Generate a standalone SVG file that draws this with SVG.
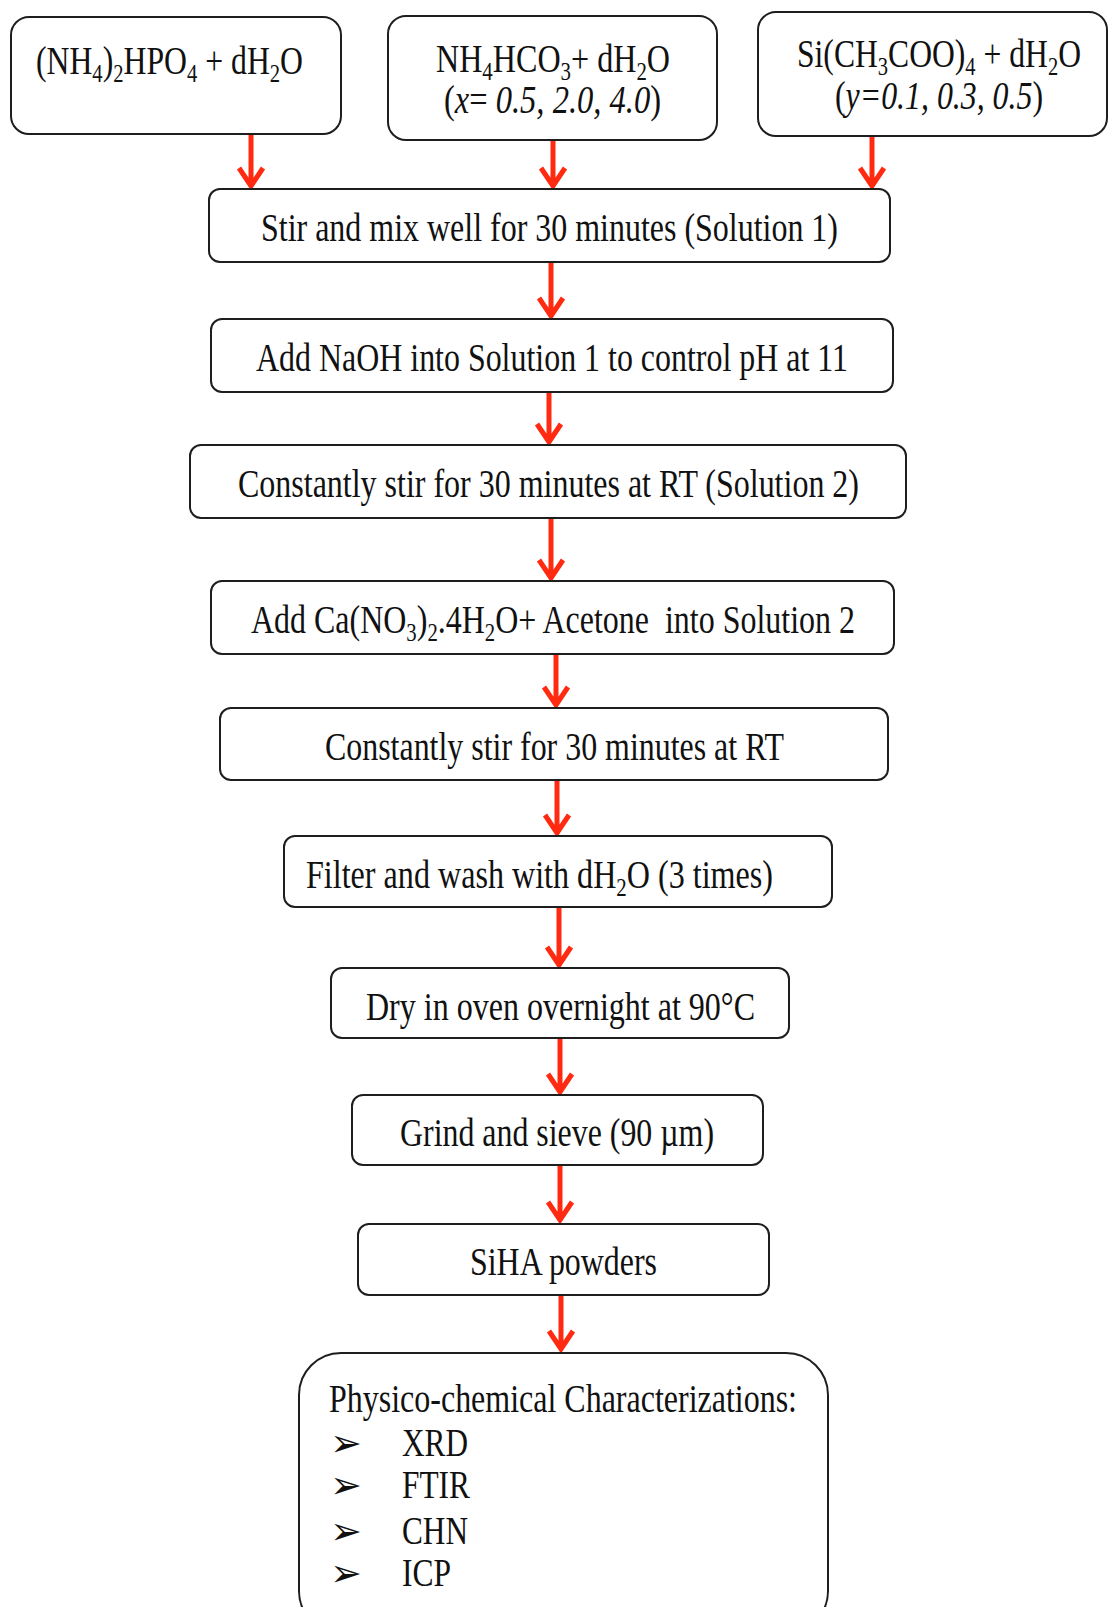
<svg xmlns="http://www.w3.org/2000/svg" width="1108" height="1607" viewBox="0 0 1108 1607">
<defs>
<style>
.box{fill:#ffffff;stroke:#1e1e1e;stroke-width:2}
.t{font-family:"Liberation Serif","Times New Roman",serif;font-size:40px;fill:#111}
.s{font-size:26px}
.i{font-style:italic}
.arr{stroke:#ff2a10;stroke-width:5;fill:none;stroke-linecap:butt;stroke-linejoin:miter}
.bul{font-family:"DejaVu Sans",sans-serif;font-size:38px;fill:#111}
</style>
</defs>
<rect width="1108" height="1607" fill="#ffffff"/>

<g id="connectors">
<path class="arr" d="M251 134V186M239 168L251 186L263 168"/>
<path class="arr" d="M553 140V186M541 168L553 186L565 168"/>
<path class="arr" d="M872 136V186M860 168L872 186L884 168"/>
<path class="arr" d="M551 262V316M539 298L551 316L563 298"/>
<path class="arr" d="M549 392V442M537 424L549 442L561 424"/>
<path class="arr" d="M551 518V578M539 560L551 578L563 560"/>
<path class="arr" d="M556 654V705M544 687L556 705L568 687"/>
<path class="arr" d="M557 780V833M545 815L557 833L569 815"/>
<path class="arr" d="M559 907V965M547 947L559 965L571 947"/>
<path class="arr" d="M560 1038V1092M548 1074L560 1092L572 1074"/>
<path class="arr" d="M560 1165V1220M548 1202L560 1220L572 1202"/>
<path class="arr" d="M561 1295V1349M549 1331L561 1349L573 1331"/>
</g>

<g id="n_dahp">
<rect class="box" x="11" y="17" width="330" height="117" rx="18"/>
<text class="t" x="36" y="74" textLength="267" lengthAdjust="spacingAndGlyphs">(NH<tspan class="s" dy="8">4</tspan><tspan dy="-8">)</tspan><tspan class="s" dy="8">2</tspan><tspan dy="-8">HPO</tspan><tspan class="s" dy="8">4</tspan><tspan dy="-8"> + dH</tspan><tspan class="s" dy="8">2</tspan><tspan dy="-8">O</tspan></text>
</g>

<g id="n_nh4hco3">
<rect class="box" x="388" y="16" width="329" height="124" rx="18"/>
<text class="t" x="436" y="72" textLength="234" lengthAdjust="spacingAndGlyphs">NH<tspan class="s" dy="8">4</tspan><tspan dy="-8">HCO</tspan><tspan class="s" dy="8">3</tspan><tspan dy="-8">+ dH</tspan><tspan class="s" dy="8">2</tspan><tspan dy="-8">O</tspan></text>
<text class="t" x="444" y="113" textLength="217" lengthAdjust="spacingAndGlyphs">(<tspan class="i">x</tspan>= <tspan class="i">0.5, 2.0, 4.0</tspan>)</text>
</g>

<g id="n_si">
<rect class="box" x="758" y="12" width="349" height="124" rx="18"/>
<text class="t" x="797" y="67" textLength="284" lengthAdjust="spacingAndGlyphs">Si(CH<tspan class="s" dy="8">3</tspan><tspan dy="-8">COO)</tspan><tspan class="s" dy="8">4</tspan><tspan dy="-8"> + dH</tspan><tspan class="s" dy="8">2</tspan><tspan dy="-8">O</tspan></text>
<text class="t" x="835" y="109" textLength="208" lengthAdjust="spacingAndGlyphs">(<tspan class="i">y=0.1, 0.3, 0.5</tspan>)</text>
</g>

<g id="n_stir1">
<rect class="box" x="209" y="189" width="681" height="73" rx="11"/>
<text class="t" x="261" y="241" textLength="577" lengthAdjust="spacingAndGlyphs">Stir and mix well for 30 minutes (Solution 1)</text>
</g>

<g id="n_naoh">
<rect class="box" x="211" y="319" width="682" height="73" rx="11"/>
<text class="t" x="256" y="371" textLength="592" lengthAdjust="spacingAndGlyphs">Add NaOH into Solution 1 to control pH at 11</text>
</g>

<g id="n_stir2">
<rect class="box" x="190" y="445" width="716" height="73" rx="11"/>
<text class="t" x="238" y="497" textLength="621" lengthAdjust="spacingAndGlyphs">Constantly stir for 30 minutes at RT (Solution 2)</text>
</g>

<g id="n_ca">
<rect class="box" x="211" y="581" width="683" height="73" rx="11"/>
<text class="t" x="251" y="633" textLength="604" lengthAdjust="spacingAndGlyphs" xml:space="preserve">Add Ca(NO<tspan class="s" dy="8">3</tspan><tspan dy="-8">)</tspan><tspan class="s" dy="8">2</tspan><tspan dy="-8">.4H</tspan><tspan class="s" dy="8">2</tspan><tspan dy="-8">O+ Acetone  into Solution 2</tspan></text>
</g>

<g id="n_stir3">
<rect class="box" x="220" y="708" width="668" height="72" rx="11"/>
<text class="t" x="325" y="760" textLength="459" lengthAdjust="spacingAndGlyphs">Constantly stir for 30 minutes at RT</text>
</g>

<g id="n_filter">
<rect class="box" x="284" y="836" width="548" height="71" rx="11"/>
<text class="t" x="306" y="888" textLength="467" lengthAdjust="spacingAndGlyphs">Filter and wash with dH<tspan class="s" dy="8">2</tspan><tspan dy="-8">O (3 times)</tspan></text>
</g>

<g id="n_dry">
<rect class="box" x="331" y="968" width="458" height="70" rx="11"/>
<text class="t" x="366" y="1020" textLength="389" lengthAdjust="spacingAndGlyphs">Dry in oven overnight at 90°C</text>
</g>

<g id="n_grind">
<rect class="box" x="352" y="1095" width="411" height="70" rx="11"/>
<text class="t" x="400" y="1146" textLength="314" lengthAdjust="spacingAndGlyphs">Grind and sieve (90 µm)</text>
</g>

<g id="n_siha">
<rect class="box" x="358" y="1224" width="411" height="71" rx="11"/>
<text class="t" x="470" y="1275" textLength="187" lengthAdjust="spacingAndGlyphs">SiHA powders</text>
</g>

<g id="n_char">
<rect class="box" x="299" y="1353" width="529" height="280" rx="42"/>
<text class="t" x="329" y="1412" textLength="468" lengthAdjust="spacingAndGlyphs">Physico-chemical Characterizations:</text>
<text class="bul" x="330" y="1456">➢</text>
<text class="bul" x="330" y="1498">➢</text>
<text class="bul" x="330" y="1544">➢</text>
<text class="bul" x="330" y="1586">➢</text>
<text class="t" x="402" y="1456" textLength="66" lengthAdjust="spacingAndGlyphs">XRD</text>
<text class="t" x="402" y="1498" textLength="68" lengthAdjust="spacingAndGlyphs">FTIR</text>
<text class="t" x="402" y="1544" textLength="66" lengthAdjust="spacingAndGlyphs">CHN</text>
<text class="t" x="402" y="1586" textLength="49" lengthAdjust="spacingAndGlyphs">ICP</text>
</g>
</svg>
